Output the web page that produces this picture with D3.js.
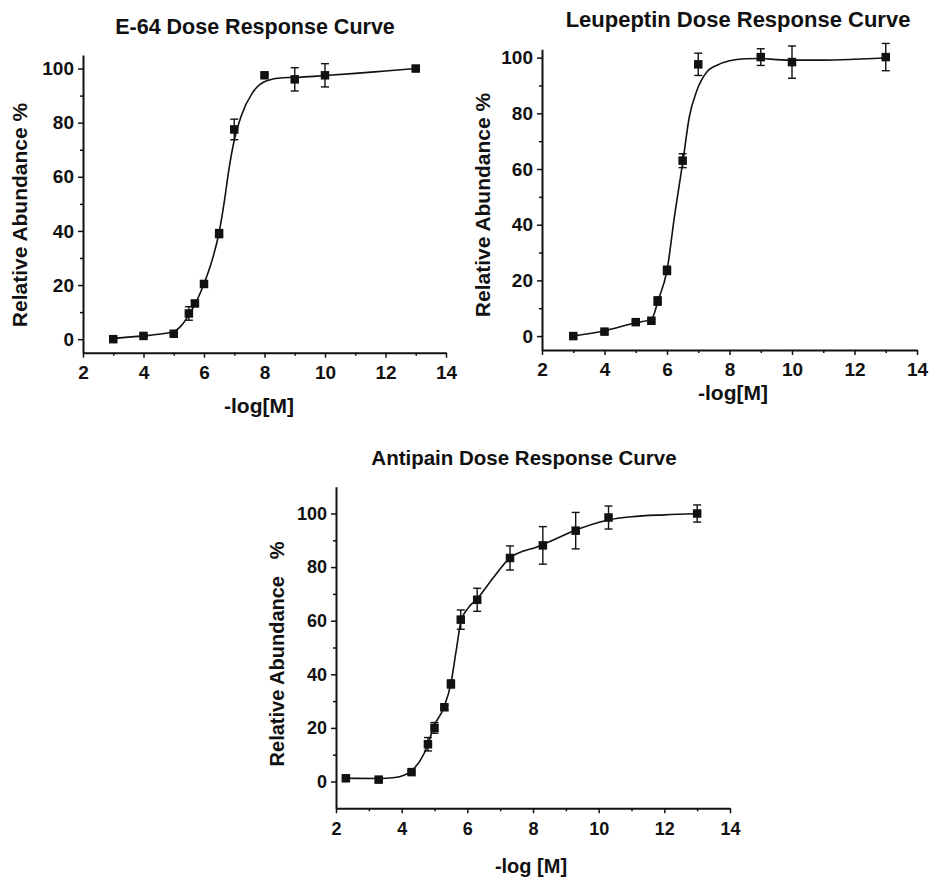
<!DOCTYPE html>
<html>
<head>
<meta charset="utf-8">
<script src="https://cdn.jsdelivr.net/npm/d3@7"></script>
<style>
  html, body { margin: 0; padding: 0; background: #fff; }
  svg text { font-family: "Liberation Sans", Arial, Helvetica, sans-serif; font-weight: bold; fill: #111; }
</style>
</head>
<body>
<svg id="chart" width="935" height="879"></svg>
<script>
// ---- E-64 ----
const e64Dose   = [3, 4, 5, 5.5, 5.7, 6, 6.5, 7, 8, 9, 10, 13];
const e64Resp   = [0, 1.2, 2, 9.5, 13.2, 20.4, 39, 77.5, 97.5, 96, 97.5, 100];
const e64Err    = [0.4, 0.5, 0.5, 2.5, 1, 1, 1.5, 3.8, 0.5, 4.3, 4.3, 1];
const e64FitX   = [3, 4, 4.5, 5, 5.25, 5.5, 5.75, 6, 6.25, 6.5, 6.68, 6.82, 7, 7.23, 7.6, 8.05, 8.6, 9, 10, 11, 12, 13];
const e64FitY   = [0.3, 1.2, 1.8, 2.8, 5, 9, 14, 20.5, 28.5, 39.5, 51.5, 62.5, 73.5, 82.5, 91, 95.4, 96.6, 96.7, 97.4, 98.2, 99.1, 100];

// ---- Leupeptin ----
const leuDose   = [3, 4, 5, 5.5, 5.7, 6, 6.5, 7, 9, 10, 13];
const leuResp   = [0, 1.6, 5, 5.5, 12.6, 23.6, 63, 97.6, 100.2, 98.4, 100.2];
const leuErr    = [0.5, 0.5, 0.5, 0.5, 1.5, 1.5, 2.5, 4, 3, 5.8, 4.9];
const leuFitX   = [3, 4, 5, 5.5, 5.72, 6, 6.25, 6.52, 6.71, 6.95, 7.3, 7.6, 8, 8.5, 9, 9.5, 10, 11, 12, 13];
const leuFitY   = [0, 1.9, 4.8, 6, 12.9, 23.6, 43.9, 63.6, 78.5, 88, 95.2, 97.3, 98.9, 99.6, 99.7, 99.3, 99.1, 99.1, 99.4, 99.9];

// ---- Antipain ----
const antDose   = [2.3, 3.3, 4.3, 4.8, 5.0, 5.3, 5.5, 5.8, 6.3, 7.3, 8.3, 9.3, 10.3, 13];
const antResp   = [1.2, 0.7, 3.5, 13.9, 20, 27.7, 36.4, 60.4, 67.8, 83.4, 88.1, 93.6, 98.5, 100];
const antErr    = [0.5, 0.5, 0.5, 2.5, 2, 1, 1.5, 3.6, 4.3, 4.5, 7, 6.8, 4.3, 3.2];
const antFitX   = [2.3, 3.3, 3.8, 4.25, 4.55, 4.81, 4.96, 5.29, 5.5, 5.66, 5.81, 6.03, 6.29, 6.79, 7.3, 8.16, 8.6, 9.3, 10.3, 11, 12, 13];
const antFitY   = [1.2, 1.1, 1.5, 3.6, 7.5, 14.1, 20, 27.7, 36.6, 48.8, 59.9, 64.8, 68, 76, 83.4, 87.7, 90, 93.8, 97.6, 98.8, 99.5, 99.9];

// ---- shared axis ticks ----
const xMajor = [2, 4, 6, 8, 10, 12, 14];
const xMinor = [3, 5, 7, 9, 11, 13];
const yMajor = [0, 20, 40, 60, 80, 100];
const yMinor = [10, 30, 50, 70, 90];

const svg = d3.select("#chart");

function drawPanel(p) {
  const g = svg.append("g");
  const x = d3.scaleLinear().domain([2, 14]).range([p.left, p.right]);
  const y = d3.scaleLinear().domain(p.yDomain).range([p.bottom, p.top]);

  // minor ticks
  g.append("g").attr("transform", `translate(0,${p.bottom})`)
    .call(d3.axisBottom(x).tickValues(xMinor).tickSize(3).tickSizeOuter(0).tickFormat(""))
    .call(a => a.select(".domain").remove())
    .call(a => a.selectAll("line").attr("stroke", "#111").attr("stroke-width", 1.5));
  g.append("g").attr("transform", `translate(${p.left},0)`)
    .call(d3.axisLeft(y).tickValues(yMinor).tickSize(3).tickSizeOuter(0).tickFormat(""))
    .call(a => a.select(".domain").remove())
    .call(a => a.selectAll("line").attr("stroke", "#111").attr("stroke-width", 1.5));

  // major axes
  const xa = g.append("g").attr("transform", `translate(0,${p.bottom})`)
    .call(d3.axisBottom(x).tickValues(xMajor).tickSize(5).tickSizeOuter(0).tickPadding(p.xPad).tickFormat(d3.format("d")));
  const ya = g.append("g").attr("transform", `translate(${p.left},0)`)
    .call(d3.axisLeft(y).tickValues(yMajor).tickSize(5).tickSizeOuter(0).tickPadding(4).tickFormat(d3.format("d")));
  [xa, ya].forEach(a => {
    a.select(".domain").attr("stroke", "#111").attr("stroke-width", 2);
    a.selectAll(".tick line").attr("stroke", "#111").attr("stroke-width", 1.5);
    a.selectAll(".tick text").attr("font-size", p.tickFont).attr("fill", "#111")
      .style("font-family", '"Liberation Sans", Arial, sans-serif').style("font-weight", "bold");
  });

  // fitted curve
  const fit = p.fitX.map((v, i) => [v, p.fitY[i]]);
  g.append("path").datum(fit)
    .attr("fill", "none").attr("stroke", "#111").attr("stroke-width", 1.6)
    .attr("d", d3.line().x(d => x(d[0])).y(d => y(d[1])).curve(d3.curveMonotoneX));

  // error bars
  const pts = p.dose.map((v, i) => ({ x: v, y: p.resp[i], e: p.err[i] }));
  const eb = g.append("g").attr("stroke", "#111").attr("stroke-width", 1.4);
  pts.forEach(d => {
    const cx = x(d.x), y1 = y(d.y - d.e), y2 = y(d.y + d.e);
    eb.append("line").attr("x1", cx).attr("x2", cx).attr("y1", y1).attr("y2", y2);
    eb.append("line").attr("x1", cx - 4).attr("x2", cx + 4).attr("y1", y1).attr("y2", y1);
    eb.append("line").attr("x1", cx - 4).attr("x2", cx + 4).attr("y1", y2).attr("y2", y2);
  });

  // square markers
  const s = 8.5;
  g.append("g").selectAll("rect").data(pts).join("rect")
    .attr("x", d => x(d.x) - s / 2).attr("y", d => y(d.y) - s / 2)
    .attr("width", s).attr("height", s).attr("fill", "#111");

  // titles
  g.append("text").attr("x", p.titleX).attr("y", p.titleY).attr("text-anchor", "middle")
    .attr("font-size", p.titleFont).text(p.title);
  g.append("text").attr("x", p.xLabelX).attr("y", p.xLabelY).attr("text-anchor", "middle")
    .attr("font-size", p.labelFont).text(p.xLabel);
  g.append("text").attr("transform", `translate(${p.yLabelX},${p.yLabelY}) rotate(-90)`)
    .attr("text-anchor", "middle").attr("font-size", p.labelFont)
    .style("white-space", "pre").text(p.yLabel);
}

drawPanel({
  dose: e64Dose, resp: e64Resp, err: e64Err, fitX: e64FitX, fitY: e64FitY,
  left: 83, right: 446, top: 55, bottom: 352.7, yDomain: [-5, 105], xPad: 8,
  tickFont: 19, titleFont: 21.5, labelFont: 21,
  title: "E-64 Dose Response Curve", titleX: 255, titleY: 34,
  xLabel: "-log[M]", xLabelX: 259, xLabelY: 413,
  yLabel: "Relative Abundance %", yLabelX: 27, yLabelY: 215
});

drawPanel({
  dose: leuDose, resp: leuResp, err: leuErr, fitX: leuFitX, fitY: leuFitY,
  left: 542, right: 917, top: 49.3, bottom: 350, yDomain: [-5, 103], xPad: 8,
  tickFont: 19, titleFont: 22, labelFont: 21,
  title: "Leupeptin Dose Response Curve", titleX: 738, titleY: 27,
  xLabel: "-log[M]", xLabelX: 733, xLabelY: 400,
  yLabel: "Relative Abundance %", yLabelX: 490, yLabelY: 205
});

drawPanel({
  dose: antDose, resp: antResp, err: antErr, fitX: antFitX, fitY: antFitY,
  left: 336, right: 730, top: 486.7, bottom: 808.3, yDomain: [-10, 110], xPad: 9,
  tickFont: 18, titleFont: 20.5, labelFont: 20,
  title: "Antipain Dose Response Curve", titleX: 524, titleY: 465,
  xLabel: "-log [M]", xLabelX: 531, xLabelY: 873,
  yLabel: "Relative Abundance   %", yLabelX: 284, yLabelY: 654
});
</script>
</body>
</html>
